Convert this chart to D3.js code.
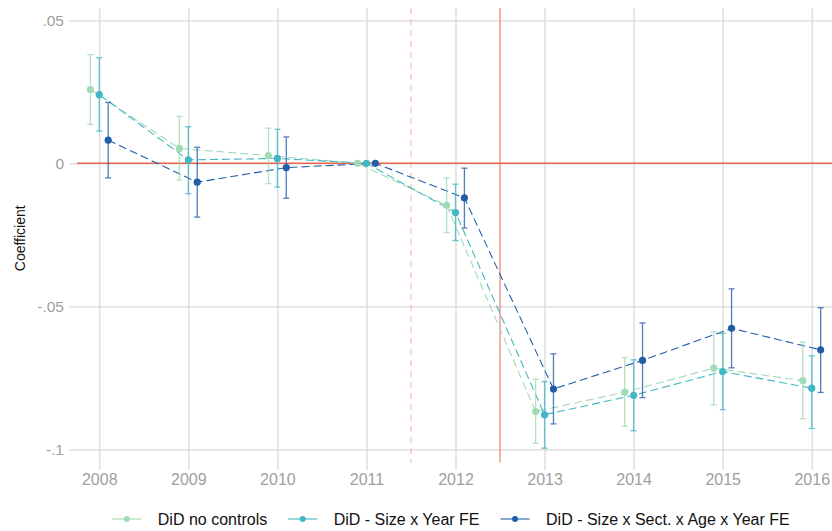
<!DOCTYPE html>
<html>
<head>
<meta charset="utf-8">
<script src="https://cdn.jsdelivr.net/npm/d3@7"></script>
<style>
  html, body { margin: 0; padding: 0; background: #ffffff; }
  svg { display: block; font-family: "Liberation Sans", Arial, sans-serif; }
</style>
</head>
<body>
<svg id="chart" width="832" height="531"></svg>
<script>
// ---- data ----
const years = [2008, 2009, 2010, 2011, 2012, 2013, 2014, 2015, 2016];
const seriesNames = ["DiD no controls", "DiD - Size x Year FE", "DiD - Size x Sect. x Age x Year FE"];
const seriesColors = ["#a1dab4", "#41b6c4", "#225ea8"];
const seriesOffsets = [-0.1, 0, 0.1];

const coefNoControls = [0.0258, 0.0052, 0.0027, 0, -0.0147, -0.0868, -0.0800, -0.0716, -0.0760];
const lowNoControls  = [0.0136, -0.0059, -0.0071, 0, -0.0242, -0.0979, -0.0919, -0.0844, -0.0893];
const highNoControls = [0.0380, 0.0164, 0.0123, 0, -0.0051, -0.0755, -0.0679, -0.0589, -0.0625];

const coefSizeYear = [0.0240, 0.0012, 0.0017, 0, -0.0172, -0.0879, -0.0811, -0.0728, -0.0786];
const lowSizeYear  = [0.0113, -0.0106, -0.0083, 0, -0.0270, -0.0996, -0.0935, -0.0861, -0.0927];
const highSizeYear = [0.0369, 0.0128, 0.0119, 0, -0.0073, -0.0763, -0.0687, -0.0594, -0.0673];

const coefFull = [0.0081, -0.0066, -0.0015, 0, -0.0121, -0.0789, -0.0689, -0.0577, -0.0652];
const lowFull  = [-0.0051, -0.0188, -0.0122, 0, -0.0226, -0.0911, -0.0819, -0.0715, -0.0801];
const highFull = [0.0213, 0.0056, 0.0092, 0, -0.0017, -0.0666, -0.0558, -0.0439, -0.0505];

const yTicks = [-0.1, -0.05, 0, 0.05];
const yTickLabels = ["-.1", "-.05", "0", ".05"];
const refLineDashed = 2011.5;
const refLineSolid = 2012.5;
const yTitle = "Coefficient";

const seriesData = [
  {name: seriesNames[0], color: seriesColors[0], dx: seriesOffsets[0], coef: coefNoControls, lo: lowNoControls, hi: highNoControls},
  {name: seriesNames[1], color: seriesColors[1], dx: seriesOffsets[1], coef: coefSizeYear, lo: lowSizeYear, hi: highSizeYear},
  {name: seriesNames[2], color: seriesColors[2], dx: seriesOffsets[2], coef: coefFull, lo: lowFull, hi: highFull}
];

// ---- layout ----
const panel = {left: 77, right: 834, top: 8, bottom: 462.5};
const svg = d3.select("#chart");

const x = d3.scaleLinear().domain([2007.75, 2016.25]).range([panel.left, panel.right]);
const y = d3.scaleLinear().domain([-0.1046, 0.0543]).range([panel.bottom, panel.top]);

const gridColor = "#d9d9d9";
const labelColor = "#a0a0a0";

// y axis with gridlines
const yAxis = d3.axisLeft(y)
  .tickValues(yTicks)
  .tickFormat((d, i) => yTickLabels[i])
  .tickSizeInner(-(panel.right - panel.left + 8))
  .tickSizeOuter(0)
  .tickPadding(5);
const gy = svg.append("g").attr("transform", `translate(${panel.left - 8},0)`).call(yAxis);
gy.select(".domain").remove();
gy.selectAll(".tick line").attr("stroke", gridColor).attr("stroke-width", 1.3);
gy.selectAll(".tick text").attr("fill", labelColor).style("font-size", "15.5px")
  .style("font-family", '"Liberation Sans", Arial, sans-serif');

// x axis with gridlines
const xAxis = d3.axisBottom(x)
  .tickValues(years)
  .tickFormat(d3.format("d"))
  .tickSizeInner(-(panel.bottom + 7.5 - panel.top))
  .tickSizeOuter(0)
  .tickPadding(4);
const gx = svg.append("g").attr("transform", `translate(0,${panel.bottom + 7.5})`).call(xAxis);
gx.select(".domain").remove();
gx.selectAll(".tick line").attr("stroke", gridColor).attr("stroke-width", 1.3);
gx.selectAll(".tick text").attr("fill", labelColor).style("font-size", "16px")
  .style("font-family", '"Liberation Sans", Arial, sans-serif');

// reference lines
svg.append("line")
  .attr("x1", x(refLineDashed)).attr("x2", x(refLineDashed))
  .attr("y1", panel.top).attr("y2", panel.bottom)
  .attr("stroke", "#fcc3bb").attr("stroke-width", 1.4).attr("stroke-dasharray", "6,5");
svg.append("line")
  .attr("x1", x(refLineSolid)).attr("x2", x(refLineSolid))
  .attr("y1", panel.top).attr("y2", panel.bottom)
  .attr("stroke", "#f2877a").attr("stroke-width", 1.3);
svg.append("line")
  .attr("x1", panel.left).attr("x2", panel.right)
  .attr("y1", y(0)).attr("y2", y(0))
  .attr("stroke", "#ec6550").attr("stroke-width", 1.6);

// series
const line = d3.line();
seriesData.forEach(s => {
  const pts = years.map((yr, i) => [x(yr + s.dx), y(s.coef[i])]);
  svg.append("path")
    .attr("d", line(pts))
    .attr("fill", "none")
    .attr("stroke", s.color)
    .attr("stroke-width", 1.1)
    .attr("stroke-dasharray", "8,4");
});

seriesData.forEach(s => {
  const g = svg.append("g");
  years.forEach((yr, i) => {
    if (s.lo[i] === s.hi[i]) return;
    const cx = x(yr + s.dx);
    const eb = g.append("g").attr("stroke", s.color).attr("stroke-width", 1.3).attr("opacity", 0.8);
    eb.append("line").attr("x1", cx).attr("x2", cx).attr("y1", y(s.lo[i])).attr("y2", y(s.hi[i]));
    eb.append("line").attr("x1", cx - 3).attr("x2", cx + 3).attr("y1", y(s.lo[i])).attr("y2", y(s.lo[i]));
    eb.append("line").attr("x1", cx - 3).attr("x2", cx + 3).attr("y1", y(s.hi[i])).attr("y2", y(s.hi[i]));
  });
});

seriesData.forEach(s => {
  svg.append("g").selectAll("circle")
    .data(years)
    .join("circle")
    .attr("cx", (yr) => x(yr + s.dx))
    .attr("cy", (yr, i) => y(s.coef[i]))
    .attr("r", 3.6)
    .attr("fill", s.color);
});

// y title
svg.append("text")
  .attr("transform", `translate(25,${(panel.top + panel.bottom) / 2 + 3}) rotate(-90)`)
  .attr("text-anchor", "middle")
  .attr("fill", "#111")
  .style("font-size", "14px")
  .text(yTitle);

// legend
const legendY = 519;
const keyW = 29, keyGap = 16.5, itemGap = 21;
const legend = svg.append("g");
const items = seriesData.map(s => {
  const t = legend.append("text").style("font-size", "16px").attr("fill", "#111").text(s.name);
  return {s, t, w: t.node().getComputedTextLength()};
});
const total = d3.sum(items, d => keyW + keyGap + d.w) + itemGap * (items.length - 1);
let cursor = 451 - total / 2;
items.forEach(it => {
  legend.append("line")
    .attr("x1", cursor).attr("x2", cursor + keyW)
    .attr("y1", legendY).attr("y2", legendY)
    .attr("stroke", it.s.color).attr("stroke-width", 1.1);
  legend.append("circle")
    .attr("cx", cursor + keyW / 2).attr("cy", legendY).attr("r", 3)
    .attr("fill", it.s.color);
  it.t.attr("x", cursor + keyW + keyGap).attr("y", legendY).attr("dy", "0.35em");
  cursor += keyW + keyGap + it.w + itemGap;
});
</script>
</body>
</html>
